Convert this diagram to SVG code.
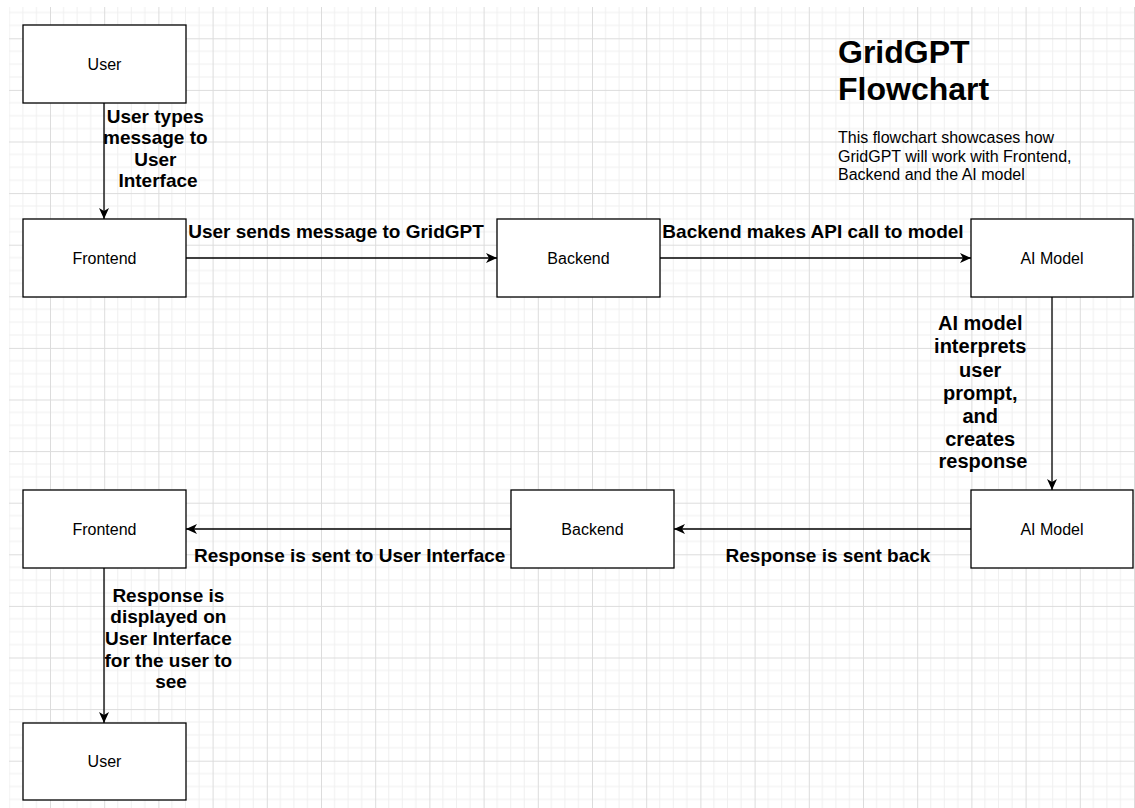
<svg xmlns="http://www.w3.org/2000/svg" width="1135" height="808" viewBox="0 0 1135 808">
  <style>
    .box { fill: #ffffff; stroke: #000000; stroke-width: 1.3; }
    .nlabel { font-family: "Liberation Sans", Arial, sans-serif; font-size: 16px; fill: #000; text-anchor: middle; }
    .elabel { font-family: "Liberation Sans", Arial, sans-serif; font-size: 19px; font-weight: bold; fill: #000; text-anchor: middle; }
    .elabel20 { font-family: "Liberation Sans", Arial, sans-serif; font-size: 20px; font-weight: bold; fill: #000; text-anchor: middle; }
    .edge { fill: none; stroke: #000000; stroke-width: 1.3; marker-end: url(#arrow); }
    .title { font-family: "Liberation Sans", Arial, sans-serif; font-size: 32px; font-weight: bold; fill: #000; }
    .desc { font-family: "Liberation Sans", Arial, sans-serif; font-size: 16px; fill: #000; }
  </style>
  <defs>
    <pattern id="grid" patternUnits="userSpaceOnUse" x="50" y="38.3" width="54.2" height="51.6">
      <path d="M13.55,0 V51.6 M27.1,0 V51.6 M40.65,0 V51.6 M0,12.9 H54.2 M0,25.8 H54.2 M0,38.7 H54.2" stroke="#f0f0f0" stroke-width="1" fill="none"/>
      <path d="M0.5,0 V51.6 M0,0.5 H54.2" stroke="#dcdcdc" stroke-width="1" fill="none"/>
    </pattern>
    <marker id="arrow" markerUnits="userSpaceOnUse" markerWidth="12" markerHeight="11" refX="11" refY="5" orient="auto">
      <path d="M0,0 L11,5 L0,10 L3,5 Z" fill="#000"/>
    </marker>
  </defs>

  <rect x="0" y="0" width="1135" height="808" fill="#ffffff"/>
  <rect x="9" y="7" width="1126" height="801" fill="url(#grid)"/>

  <g id="connectors">
    <path class="edge" d="M104,103 V219"/>
    <path class="edge" d="M186,258 H497"/>
    <path class="edge" d="M660,258 H971"/>
    <path class="edge" d="M1052,297 V490"/>
    <path class="edge" d="M971,529 H674"/>
    <path class="edge" d="M511,529 H186"/>
    <path class="edge" d="M104,568 V723"/>

    <text class="elabel">
      <tspan x="158" y="122.7">User types</tspan>
      <tspan x="158" y="144.1">message to</tspan>
      <tspan x="158" y="165.5">User</tspan>
      <tspan x="158" y="186.9">Interface</tspan>
    </text>
    <text class="elabel" x="336" y="238">User sends message to GridGPT</text>
    <text class="elabel" x="813" y="238">Backend makes API call to model</text>
    <text class="elabel20">
      <tspan x="983" y="330">AI model</tspan>
      <tspan x="983" y="353.3">interprets</tspan>
      <tspan x="983" y="376.6">user</tspan>
      <tspan x="983" y="399.9">prompt,</tspan>
      <tspan x="983" y="422.7">and</tspan>
      <tspan x="983" y="445.7">creates</tspan>
      <tspan x="983" y="468.3">response</tspan>
    </text>
    <text class="elabel" x="828" y="561.7">Response is sent back</text>
    <text class="elabel" x="349.7" y="561.7">Response is sent to User Interface</text>
    <text class="elabel">
      <tspan x="171" y="601.7">Response is</tspan>
      <tspan x="171" y="623.3">displayed on</tspan>
      <tspan x="171" y="645">User Interface</tspan>
      <tspan x="171" y="666.7">for the user to</tspan>
      <tspan x="171" y="688.3">see</tspan>
    </text>
  </g>

  <g id="user-top">
    <rect class="box" x="23" y="25" width="163" height="78"/>
    <text class="nlabel" x="104.5" y="69.5">User</text>
  </g>
  <g id="frontend-top">
    <rect class="box" x="23" y="219" width="163" height="78"/>
    <text class="nlabel" x="104.5" y="263.5">Frontend</text>
  </g>
  <g id="backend-top">
    <rect class="box" x="497" y="219" width="163" height="78"/>
    <text class="nlabel" x="578.5" y="263.5">Backend</text>
  </g>
  <g id="aimodel-top">
    <rect class="box" x="971" y="219" width="162" height="78"/>
    <text class="nlabel" x="1052" y="263.5">AI Model</text>
  </g>
  <g id="aimodel-bottom">
    <rect class="box" x="971" y="490" width="162" height="78"/>
    <text class="nlabel" x="1052" y="534.5">AI Model</text>
  </g>
  <g id="backend-bottom">
    <rect class="box" x="511" y="490" width="163" height="78"/>
    <text class="nlabel" x="592.5" y="534.5">Backend</text>
  </g>
  <g id="frontend-bottom">
    <rect class="box" x="23" y="490" width="163" height="78"/>
    <text class="nlabel" x="104.5" y="534.5">Frontend</text>
  </g>
  <g id="user-bottom">
    <rect class="box" x="23" y="723" width="163" height="77"/>
    <text class="nlabel" x="104.5" y="767">User</text>
  </g>

  <g id="title">
    <text class="title"><tspan x="838" y="63.3">GridGPT</tspan><tspan x="838" y="100">Flowchart</tspan></text>
    <text class="desc">
      <tspan x="838" y="143.3">This flowchart showcases how</tspan>
      <tspan x="838" y="161.7">GridGPT will work with Frontend,</tspan>
      <tspan x="838" y="180">Backend and the AI model</tspan>
    </text>
  </g>
</svg>
